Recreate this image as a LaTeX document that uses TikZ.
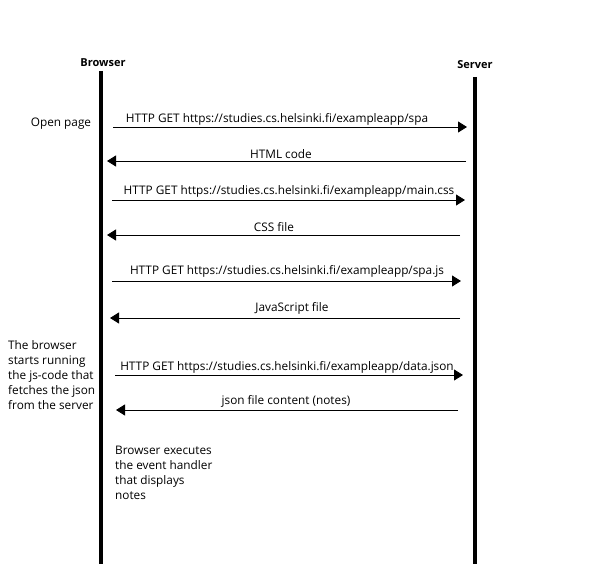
\documentclass[tikz,border=0pt]{standalone}
\usepackage{fontspec}
\setmainfont{Open Sans}
\usetikzlibrary{arrows.meta}
\begin{document}
\begin{tikzpicture}[x=1pt,y=-1pt,
  life/.style={line width=4pt},
  msg/.style={line width=0.9pt,-{Triangle[length=9pt,width=11pt]}},
  lbl/.style={font=\fontsize{11.8}{15}\selectfont,inner sep=0pt},
  head/.style={font=\fontsize{11}{14}\selectfont\bfseries,inner sep=0pt},
  note/.style={font=\fontsize{11.8}{15}\selectfont,inner sep=0pt,align=left,anchor=north west}]
\useasboundingbox[fill=white] (0,0) rectangle (601,564);
% lifelines
\node[head] (bh) at (103,63) {Browser};
\node[head] (sh) at (475,65) {Server};
\coordinate (bt) at (101,71);
\coordinate (bb) at (101,564);
\coordinate (st) at (475,77);
\coordinate (sb) at (475,564);
\draw[life] (bt) -- (bb);
\draw[life] (st) -- (sb);
% messages
\coordinate (a1s) at (113,127); \coordinate (a1e) at (467,127);
\coordinate (a2s) at (466,161); \coordinate (a2e) at (107,161);
\coordinate (a3s) at (112,200); \coordinate (a3e) at (465,200);
\coordinate (a4s) at (460,235); \coordinate (a4e) at (107,235);
\coordinate (a5s) at (112,281); \coordinate (a5e) at (461,281);
\coordinate (a6s) at (460,318); \coordinate (a6e) at (110,318);
\coordinate (a7s) at (115,375); \coordinate (a7e) at (463,375);
\coordinate (a8s) at (458,410); \coordinate (a8e) at (116,410);
\draw[msg] (a1s) -- (a1e);
\draw[msg] (a2s) -- (a2e);
\draw[msg] (a3s) -- (a3e);
\draw[msg] (a4s) -- (a4e);
\draw[msg] (a5s) -- (a5e);
\draw[msg] (a6s) -- (a6e);
\draw[msg] (a7s) -- (a7e);
\draw[msg] (a8s) -- (a8e);
\node[lbl] (l1) at (277,119) {HTTP GET https://studies.cs.helsinki.fi/exampleapp/spa};
\node[lbl] (l2) at (281,154) {HTML code};
\node[lbl] (l3) at (289,191) {HTTP GET https://studies.cs.helsinki.fi/exampleapp/main.css};
\node[lbl] (l4) at (274,227) {CSS file};
\node[lbl] (l5) at (287,271) {HTTP GET https://studies.cs.helsinki.fi/exampleapp/spa.js};
\node[lbl] (l6) at (292,308) {JavaScript file};
\node[lbl] (l7) at (287,367) {HTTP GET https://studies.cs.helsinki.fi/exampleapp/data.json};
\node[lbl] (l8) at (286,401) {json file content (notes)};
% notes
\node[lbl] (n1) at (61,124) {Open page};
\node[note] (n2) at (8,340) {The browser\\starts running\\the js-code that\\fetches the json\\from the server};
\node[note] (n3) at (115,446) {Browser executes\\the event handler\\that displays\\notes};
\end{tikzpicture}
\end{document}
